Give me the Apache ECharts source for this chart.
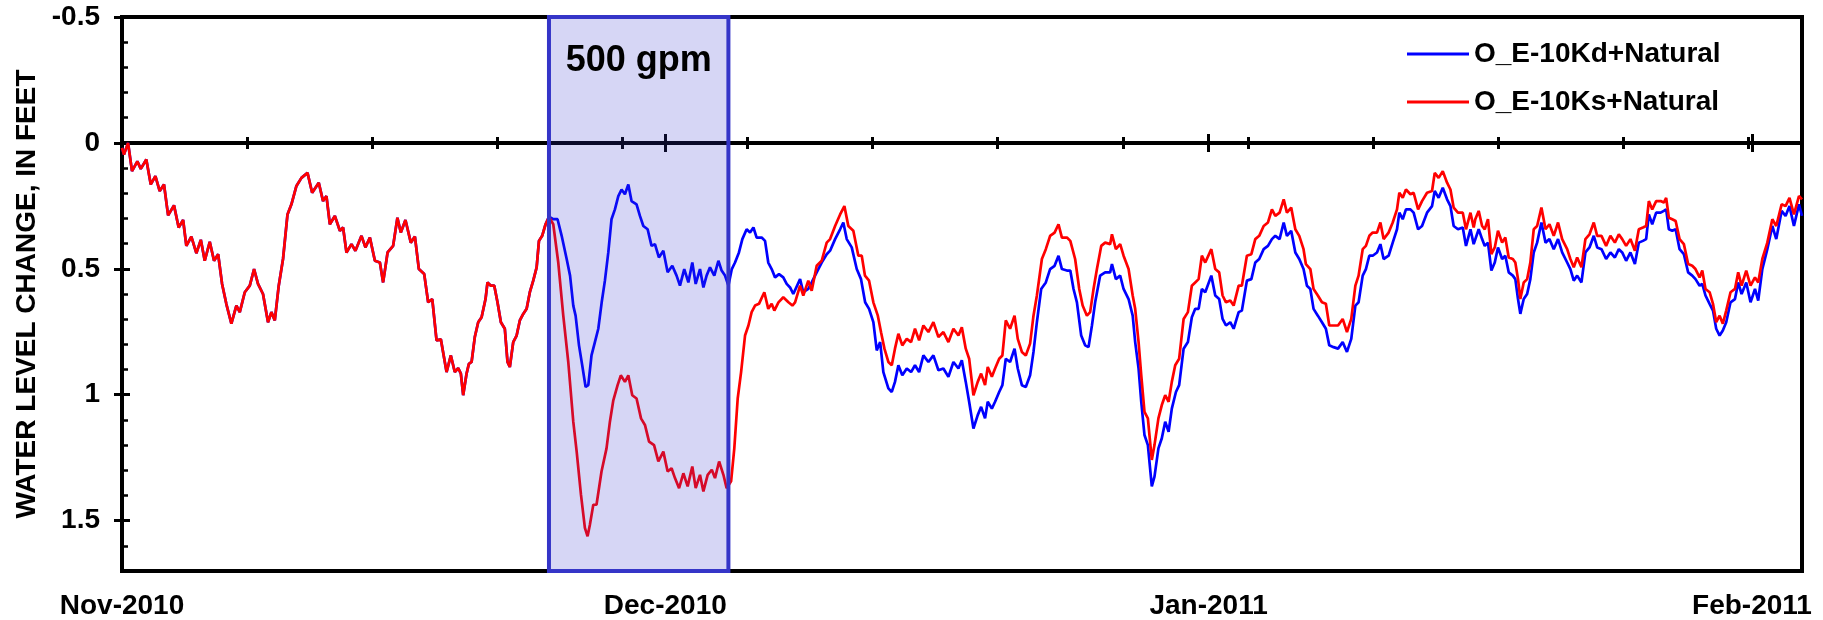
<!DOCTYPE html>
<html>
<head>
<meta charset="utf-8">
<script src="https://cdn.jsdelivr.net/npm/echarts@6/dist/echarts.min.js"></script>
<style>
html,body{margin:0;padding:0;background:#fff;}
#chart{width:1823px;height:620px;}
</style>
</head>
<body>
<div id="chart"></div>
<script>
// x values: days since 1 Nov 2010
const monthLabels = ['Nov-2010', 'Dec-2010', 'Jan-2011', 'Feb-2011'];
const seriesNames = ['O_E-10Kd+Natural', 'O_E-10Ks+Natural'];
const pumpingLabel = '500 gpm';
const pumpingPeriod = [23.89, 33.93];

// both scenarios identical before pumping
const commonDays = [
  0,0.11,0.34,0.56,0.86,1.05,1.36,1.61,1.87,2.11,
  2.35,2.58,2.91,3.17,3.42,3.60,3.88,4.16,4.41,4.63,
  4.91,5.15,5.38,5.60,5.84,6.12,6.40,6.59,6.87,7.15,
  7.39,7.61,7.89,8.17,8.36,8.55,8.77,9.01,9.26,9.48,
  9.76,10.04,10.38,10.64,11.01,11.25,11.44,11.63,11.91,12.19,
  12.37,12.56,12.84,13.06,13.40,13.62,13.87,14.15,14.43,14.61,
  14.86,15.17,15.41,15.60,15.86,16.16,16.39,16.61,16.91,17.13,
  17.36,17.60,17.84,18.16,18.40,
  18.62,18.81,18.96,19.09,19.28,19.41,19.56,19.74,19.93,20.12,
  20.34,20.45,20.64,20.83,21.01,21.20,21.42,21.57,21.70,21.89,
  22.08,22.26,22.45,22.64,22.82,23.01,23.20,23.33,23.51,23.70,
  23.89
];
const commonLevel = [
  0.02,0.046,0.0,0.112,0.073,0.103,0.066,0.165,0.132,0.191,
  0.165,0.288,0.248,0.336,0.306,0.409,0.372,0.438,0.385,0.468,
  0.393,0.468,0.442,0.56,0.64,0.718,0.646,0.672,0.593,0.567,
  0.501,0.56,0.60,0.712,0.672,0.705,0.567,0.461,0.284,0.244,
  0.171,0.139,0.119,0.198,0.158,0.231,0.211,0.323,0.290,0.349,
  0.336,0.435,0.402,0.428,0.369,0.415,0.376,0.468,0.475,0.554,
  0.435,0.409,0.297,0.356,0.306,0.396,0.372,0.501,0.521,0.633,
  0.620,0.784,0.78,0.910,0.844,
  0.910,0.894,0.916,1.002,0.916,0.877,0.870,0.771,0.712,0.692,
  0.620,0.554,0.567,0.567,0.633,0.712,0.738,0.870,0.890,0.791,
  0.765,0.705,0.679,0.659,0.593,0.547,0.494,0.389,0.369,0.323,
  0.293
];

// O_E-10Kd+Natural after pumping start (blue)
const kdDays = [
  24.13,24.37,24.60,24.88,25.07,25.25,25.38,25.57,25.75,25.94,
  26.09,26.27,26.46,26.65,26.84,27.02,27.21,27.39,27.58,27.77,
  27.95,28.14,28.33,28.51,28.79,28.98,29.17,29.41,29.63,29.82,
  30.04,30.29,30.53,30.79,31.03,31.22,31.46,31.69,31.91,32.10,
  32.34,32.53,32.71,32.90,33.14,33.37,33.55,33.74,33.93,34.12,
  34.30,34.52,34.71,34.95,35.14,35.33,35.51,35.79,35.98,36.16,
  36.35,36.54,36.76,37.00,37.19,37.38,37.56,
  37.66,37.94,38.12,38.40,38.59,38.87,39.15,39.43,39.62,39.90,
  40.18,40.36,40.55,40.83,41.11,41.35,41.58,41.80,42.04,42.23,
  42.42,42.60,42.88,43.07,43.25,43.44,43.66,43.91,44.15,44.37,
  44.60,44.84,45.12,45.40,45.68,45.96,46.24,46.52,46.80,46.99,
  47.21,47.40,47.64,47.88,48.07,48.29,48.44,48.67,48.85,49.08,
  49.26,49.45,49.69,49.94,50.12,50.35,50.57,50.81,51.00,51.19,
  51.43,51.69,51.93,52.18,52.40,52.59,52.87,53.06,53.24,53.43,
  53.67,53.89,54.08,54.27,54.45,54.73,55.01,55.29,55.39,55.61,
  55.85,56.04,56.32,56.55,
  56.69,56.88,57.03,57.21,57.40,57.62,57.77,57.99,58.18,58.37,
  58.56,58.74,58.97,59.15,59.40,59.64,59.86,60.05,60.24,60.42,
  60.61,60.95,61.17,61.39,61.58,61.77,62.01,62.20,62.48,62.66,
  62.94,63.19,63.41,63.63,63.88,64.12,64.34,64.53,64.77,65.00,
  65.18,65.42,65.65,65.87,66.11,66.30,66.49,66.67,66.91,67.14,
  67.36,67.55,67.79,68.04,68.30,68.54,68.78,69.01,69.19,69.42,
  69.60,69.79,69.98,70.22,70.41,70.59,70.87,71.10,71.34,71.47,
  71.66,71.84,72.09,72.27,72.52,72.74,73.02,73.30,73.45,73.67,
  73.90,74.14,74.33,74.51,74.75,75.02,75.20,75.45,75.63,
  75.72,75.91,76.10,76.25,76.43,76.62,76.81,76.99,77.22,77.40,
  77.59,77.82,77.96,78.11,78.24,78.43,78.62,78.80,78.99,79.18,
  79.42,79.65,79.87,80.11,80.35,80.58,80.86,81.04,81.23,81.42,
  81.66,81.88,82.11,82.35,82.54,82.78,83.04,83.28,83.53,83.75,
  83.94,84.16,84.40,84.65,84.87,85.10,85.28,85.43,85.62,85.84,
  86.09,86.27,86.40,86.55,86.74,86.93,87.15,87.39,87.63,87.86,
  88.04,88.27,88.42,88.60,88.83,89.02,89.20,89.39,89.57,89.76,
  90.00,90.25,90.43,90.62,90.88,91.12,91.37,91.55,91.78,92.06,
  92.34,92.56,92.86,93.08,93.30,93.55,93.83,94.00
];
const kdLevel = [
  0.303,0.303,0.369,0.461,0.527,0.646,0.686,0.804,0.883,0.969,
  0.962,0.844,0.791,0.738,0.633,0.547,0.435,0.303,0.264,0.211,
  0.185,0.204,0.165,0.231,0.244,0.290,0.330,0.343,0.409,0.402,
  0.455,0.428,0.514,0.488,0.527,0.567,0.501,0.554,0.475,0.560,
  0.501,0.574,0.527,0.494,0.527,0.468,0.507,0.527,0.567,0.501,
  0.475,0.435,0.382,0.343,0.356,0.336,0.376,0.376,0.389,0.475,
  0.501,0.534,0.521,0.534,0.560,0.574,0.600,
  0.593,0.541,0.593,0.580,0.554,0.514,0.475,0.442,0.428,0.382,
  0.343,0.316,0.382,0.415,0.501,0.541,0.633,0.659,0.712,0.824,
  0.791,0.910,0.975,0.989,0.949,0.883,0.923,0.896,0.910,0.883,
  0.910,0.844,0.870,0.844,0.903,0.896,0.929,0.870,0.896,0.863,
  0.949,1.028,1.134,1.081,1.048,1.094,1.028,1.055,1.028,0.989,
  0.962,0.857,0.870,0.817,0.896,0.962,0.969,0.923,0.830,0.712,
  0.580,0.554,0.501,0.488,0.448,0.501,0.507,0.507,0.580,0.633,
  0.765,0.804,0.811,0.725,0.633,0.527,0.514,0.514,0.481,0.541,
  0.527,0.580,0.620,0.686,
  0.791,0.896,1.028,1.160,1.200,1.364,1.325,1.213,1.173,1.107,
  1.147,1.055,0.989,0.962,0.817,0.791,0.692,0.659,0.659,0.580,
  0.593,0.527,0.606,0.620,0.699,0.725,0.712,0.738,0.672,0.666,
  0.547,0.541,0.475,0.461,0.422,0.409,0.382,0.369,0.382,0.316,
  0.369,0.349,0.435,0.461,0.501,0.567,0.580,0.659,0.686,0.712,
  0.738,0.804,0.811,0.817,0.791,0.830,0.778,0.646,0.633,0.527,
  0.501,0.448,0.448,0.435,0.402,0.461,0.448,0.396,0.343,0.277,
  0.303,0.264,0.264,0.277,0.343,0.330,0.277,0.251,0.191,0.218,
  0.178,0.224,0.251,0.330,0.343,0.336,0.409,0.343,0.402,
  0.396,0.343,0.382,0.409,0.396,0.507,0.475,0.415,0.461,0.448,
  0.514,0.527,0.541,0.620,0.679,0.620,0.600,0.541,0.435,0.396,
  0.316,0.396,0.382,0.422,0.382,0.435,0.475,0.501,0.547,0.527,
  0.554,0.435,0.415,0.369,0.415,0.422,0.461,0.435,0.455,0.422,
  0.435,0.468,0.435,0.481,0.396,0.389,0.382,0.284,0.323,0.277,
  0.277,0.270,0.264,0.343,0.349,0.343,0.422,0.442,0.514,0.527,
  0.541,0.567,0.560,0.606,0.639,0.666,0.738,0.765,0.745,0.712,
  0.633,0.620,0.554,0.600,0.554,0.633,0.580,0.626,0.501,0.422,
  0.330,0.382,0.270,0.290,0.251,0.330,0.244,0.290
];

// O_E-10Ks+Natural after pumping start (red)
const ksDays = [
  24.13,24.41,24.69,24.97,25.25,25.44,25.68,25.90,26.05,26.18,
  26.37,26.55,26.83,27.11,27.30,27.49,27.73,27.91,28.14,28.33,
  28.55,28.79,29.04,29.26,29.49,29.77,30.01,30.29,30.53,30.75,
  30.94,31.17,31.41,31.65,31.91,32.10,32.34,32.53,32.77,33.00,
  33.18,33.41,33.65,33.83,34.08,34.26,34.45,34.64,34.86,35.05,
  35.23,35.42,35.64,35.94,36.16,36.35,36.50,36.73,37.00,37.29,
  37.51,
  37.66,37.94,38.12,38.40,38.59,38.87,39.15,39.43,39.62,39.90,
  40.18,40.42,40.64,40.92,41.20,41.39,41.57,41.80,42.04,42.29,
  42.47,42.66,42.88,43.07,43.25,43.44,43.66,43.91,44.15,44.37,
  44.60,44.84,45.12,45.40,45.68,45.96,46.24,46.52,46.80,46.99,
  47.21,47.40,47.64,47.88,48.07,48.29,48.44,48.67,48.85,49.08,
  49.26,49.45,49.69,49.94,50.12,50.35,50.57,50.81,51.00,51.19,
  51.47,51.69,51.93,52.18,52.40,52.59,52.87,53.06,53.33,53.56,
  53.75,53.99,54.17,54.36,54.55,54.79,55.01,55.29,55.39,55.61,
  55.85,56.04,56.32,56.55,
  56.69,56.88,57.03,57.21,57.40,57.62,57.77,57.99,58.18,58.37,
  58.56,58.74,58.93,59.15,59.40,59.64,59.86,60.05,60.24,60.42,
  60.61,60.95,61.17,61.39,61.58,61.77,62.01,62.20,62.48,62.66,
  62.94,63.19,63.41,63.63,63.88,64.12,64.34,64.53,64.77,65.00,
  65.18,65.42,65.65,65.87,66.11,66.24,66.49,66.67,66.91,67.14,
  67.36,67.55,67.79,68.04,68.30,68.54,68.78,69.01,69.19,69.42,
  69.60,69.79,69.98,70.22,70.41,70.59,70.87,71.10,71.34,71.47,
  71.66,71.84,72.09,72.27,72.52,72.74,73.02,73.30,73.45,73.67,
  73.90,74.14,74.33,74.51,74.75,75.02,75.20,75.45,75.63,
  75.72,75.91,76.10,76.25,76.43,76.62,76.81,76.99,77.22,77.40,
  77.59,77.82,77.96,78.11,78.24,78.43,78.62,78.80,78.99,79.18,
  79.42,79.65,79.87,80.11,80.35,80.58,80.86,81.04,81.23,81.42,
  81.66,81.88,82.11,82.35,82.54,82.78,83.04,83.28,83.53,83.75,
  83.94,84.16,84.40,84.65,84.87,85.10,85.28,85.43,85.62,85.84,
  86.09,86.27,86.40,86.55,86.74,86.93,87.15,87.39,87.63,87.86,
  88.04,88.27,88.42,88.60,88.83,89.02,89.20,89.39,89.57,89.76,
  90.00,90.25,90.43,90.62,90.88,91.12,91.37,91.55,91.78,92.06,
  92.34,92.56,92.86,93.08,93.30,93.55,93.83,94.00
];
const ksLevel = [
  0.323,0.475,0.686,0.870,1.107,1.226,1.397,1.529,1.562,1.516,
  1.437,1.437,1.305,1.213,1.107,1.022,0.962,0.923,0.949,0.923,
  1.002,1.015,1.094,1.120,1.186,1.200,1.265,1.226,1.305,1.292,
  1.331,1.371,1.312,1.364,1.285,1.371,1.318,1.384,1.318,1.298,
  1.331,1.265,1.318,1.371,1.344,1.213,1.015,0.910,0.765,0.725,
  0.672,0.646,0.639,0.593,0.659,0.639,0.666,0.633,0.613,0.633,
  0.646,
  0.633,0.567,0.606,0.547,0.587,0.488,0.468,0.396,0.382,0.330,
  0.284,0.251,0.330,0.349,0.448,0.448,0.527,0.547,0.633,0.686,
  0.752,0.817,0.870,0.883,0.817,0.758,0.804,0.778,0.791,0.738,
  0.784,0.725,0.751,0.712,0.771,0.751,0.791,0.738,0.765,0.732,
  0.817,0.857,1.002,0.949,0.916,0.962,0.890,0.929,0.896,0.857,
  0.844,0.705,0.738,0.686,0.778,0.830,0.844,0.797,0.686,0.606,
  0.461,0.422,0.369,0.356,0.323,0.376,0.376,0.389,0.461,0.580,
  0.646,0.686,0.672,0.580,0.501,0.409,0.396,0.402,0.363,0.422,
  0.402,0.448,0.501,0.606,
  0.659,0.791,0.923,1.068,1.094,1.259,1.200,1.094,1.041,1.002,
  1.028,0.949,0.883,0.857,0.699,0.672,0.567,0.554,0.541,0.448,
  0.475,0.422,0.501,0.514,0.606,0.633,0.626,0.646,0.567,0.567,
  0.448,0.442,0.382,0.369,0.330,0.316,0.264,0.290,0.277,0.224,
  0.277,0.257,0.343,0.369,0.422,0.481,0.501,0.580,0.606,0.633,
  0.639,0.725,0.725,0.725,0.699,0.751,0.699,0.567,0.527,0.422,
  0.409,0.369,0.356,0.356,0.316,0.382,0.356,0.316,0.264,0.198,
  0.218,0.185,0.204,0.198,0.264,0.231,0.198,0.191,0.119,0.139,
  0.112,0.158,0.185,0.257,0.277,0.277,0.343,0.277,0.336,
  0.303,0.270,0.330,0.343,0.303,0.442,0.415,0.349,0.396,0.376,
  0.455,0.461,0.475,0.541,0.620,0.554,0.541,0.475,0.343,0.330,
  0.257,0.343,0.323,0.369,0.316,0.382,0.422,0.461,0.494,0.455,
  0.494,0.382,0.363,0.316,0.369,0.369,0.409,0.369,0.396,0.363,
  0.382,0.409,0.382,0.428,0.343,0.336,0.330,0.231,0.264,0.231,
  0.231,0.237,0.218,0.297,0.303,0.310,0.382,0.402,0.481,0.488,
  0.501,0.534,0.507,0.580,0.593,0.639,0.712,0.686,0.718,0.666,
  0.593,0.580,0.514,0.567,0.507,0.567,0.534,0.554,0.461,0.396,
  0.303,0.330,0.244,0.251,0.218,0.284,0.211,0.224
];

function pairs(days, levels) {
  const n = Math.min(days.length, levels.length);
  const out = [];
  for (let i = 0; i < n; i++) out.push([days[i], levels[i]]);
  return out;
}
const kdData = pairs(commonDays.concat(kdDays), commonLevel.concat(kdLevel));
const ksData = pairs(commonDays.concat(ksDays), commonLevel.concat(ksLevel));

const FONT = "'Liberation Sans', Arial, Helvetica, sans-serif";
const X_MAX = 94;
const MONTH_STEP = 30.4;

function tickAxis(interval, inside, len) {
  return {
    type: 'value', min: 0, max: X_MAX, interval: interval, position: 'bottom',
    axisLine: { show: true, onZero: true, onZeroAxisIndex: 0, lineStyle: { color: '#000', width: 3.5 } },
    axisTick: { show: true, inside: inside, length: len, lineStyle: { color: '#000', width: 3 } },
    axisLabel: { show: false }, splitLine: { show: false }
  };
}

const chart = echarts.init(document.getElementById('chart'), null, { renderer: 'canvas' });
chart.setOption({
  animation: false,
  backgroundColor: '#ffffff',
  textStyle: { fontFamily: FONT },
  grid: { left: 122, right: 21, top: 17, bottom: 48, show: true, borderColor: '#000', borderWidth: 4, backgroundColor: 'transparent' },
  legend: {
    data: seriesNames,
    orient: 'vertical', left: 1402, top: 35,
    icon: 'rect', itemWidth: 62, itemHeight: 3, itemGap: 20,
    textStyle: { fontFamily: FONT, fontSize: 28, fontWeight: 'bold', color: '#000' }
  },
  xAxis: [
    tickAxis(7, true, 6),
    tickAxis(7, false, 6),
    tickAxis(MONTH_STEP, true, 9),
    tickAxis(MONTH_STEP, false, 9),
    {
      type: 'value', min: 0, max: X_MAX, interval: MONTH_STEP, position: 'bottom',
      axisLine: { show: false, onZero: false }, axisTick: { show: false }, splitLine: { show: false },
      axisLabel: {
        show: true, margin: 21, showMaxLabel: false,
        fontFamily: FONT, fontSize: 28, fontWeight: 'bold', color: '#000',
        formatter: function (v) { return monthLabels[Math.round(v / MONTH_STEP)] || ''; }
      }
    }
  ],
  yAxis: [
    {
      type: 'value', inverse: true, min: -0.5, max: 1.7, interval: 0.1, position: 'left',
      axisLine: { show: true, onZero: false, lineStyle: { color: '#000', width: 4 } },
      axisTick: { show: true, inside: true, length: 6, lineStyle: { color: '#000', width: 2.5 } },
      axisLabel: { show: false }, splitLine: { show: false }
    },
    {
      type: 'value', inverse: true, min: -0.5, max: 1.7, interval: 0.5, position: 'left',
      axisLine: { show: false, onZero: false },
      axisTick: { show: true, inside: false, length: 8, lineStyle: { color: '#000', width: 3 } },
      axisLabel: { show: true, margin: 22, showMaxLabel: false, fontFamily: FONT, fontSize: 28, fontWeight: 'bold', color: '#000' },
      splitLine: { show: false },
      name: 'WATER LEVEL CHANGE, IN FEET', nameLocation: 'middle', nameGap: 76,
      nameTextStyle: { fontFamily: FONT, fontSize: 28, fontWeight: 'bold', color: '#000' }
    },
    {
      type: 'value', inverse: true, min: -0.5, max: 1.7, interval: 0.5, position: 'left',
      axisLine: { show: false, onZero: false },
      axisTick: { show: true, inside: true, length: 8, lineStyle: { color: '#000', width: 3 } },
      axisLabel: { show: false }, splitLine: { show: false }
    }
  ],
  series: [
    {
      name: seriesNames[0], type: 'line', data: kdData, xAxisIndex: 0, yAxisIndex: 0,
      symbol: 'none', showSymbol: false, color: '#0000ff',
      lineStyle: { color: '#0000ff', width: 2.7 }, z: 2
    },
    {
      name: seriesNames[1], type: 'line', data: ksData, xAxisIndex: 0, yAxisIndex: 0,
      symbol: 'none', showSymbol: false, color: '#ff0000',
      lineStyle: { color: '#ff0000', width: 2.7 }, z: 3
    },
    {
      name: 'pumping', type: 'line', data: [], xAxisIndex: 0, yAxisIndex: 0, z: 10, silent: true,
      markArea: {
        silent: true, z: 10,
        itemStyle: { color: 'rgba(51,51,204,0.2)', borderColor: '#3535c8', borderWidth: 4 },
        label: { show: true, position: 'insideTop', distance: 28, formatter: '{b}', fontFamily: FONT, fontSize: 36, fontWeight: 'bold', color: '#000' },
        data: [[{ name: pumpingLabel, xAxis: pumpingPeriod[0], yAxis: -0.5 }, { xAxis: pumpingPeriod[1], yAxis: 1.7 }]]
      }
    }
  ]
});
</script>
</body>
</html>
